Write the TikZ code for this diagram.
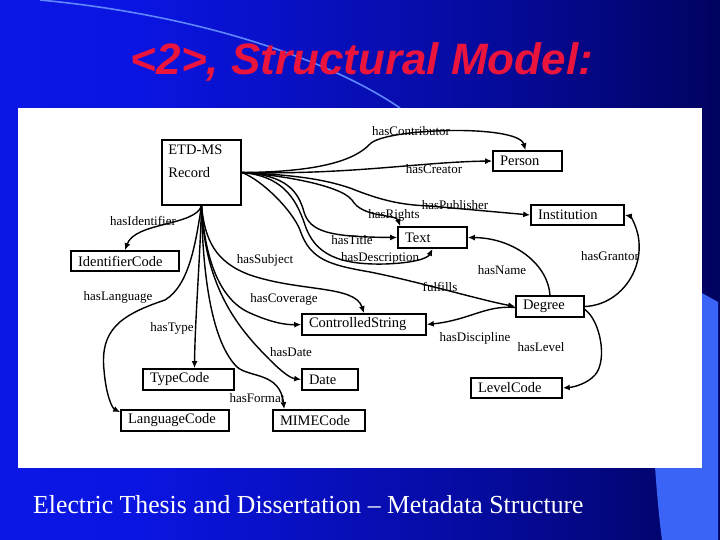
\documentclass[tikz,border=0pt]{standalone}
\usepackage{fontspec}
\setmainfont{Liberation Serif}
\newfontfamily\ttlfont{Liberation Sans}
\usetikzlibrary{arrows.meta}
\pgfdeclarehorizontalshading{slidebg}{100bp}{rgb(0bp)=(0.05,0.12,0.95); rgb(35bp)=(0.04,0.08,0.88); rgb(60bp)=(0.02,0.04,0.6); rgb(80bp)=(0,0,0.3); rgb(95bp)=(0,0,0.05); rgb(100bp)=(0,0,0)}
\definecolor{titlered}{RGB}{235,20,60}
\definecolor{arcblue}{RGB}{95,135,255}
\definecolor{cornerblue}{RGB}{58,100,245}
\tikzset{
  box/.style={draw, line width=1.6pt, minimum height=21pt, inner xsep=7pt, inner ysep=0pt,
    font=\fontsize{14.5}{16}\selectfont, align=left},
  lbl/.style={inner sep=0pt, font=\fontsize{13}{15}\selectfont},
  rel/.style={line width=1.4pt, -{Latex[length=7pt,width=6pt]}},
}
\begin{document}
\begin{tikzpicture}[x=1pt,y=-1pt]
\useasboundingbox (0,0) rectangle (720,540);
\shade[shading=slidebg] (0,0) rectangle (720,540);
\fill[cornerblue] (700,292) -- (718,302) -- (718,540) -- (662,540) .. controls (658,510) and (656,480) .. (655,467) -- (655,400) -- cycle;
\draw[arcblue, line width=1.6pt] (40,0) .. controls (200,15) and (330,60) .. (400,108);
\fill[white] (18,108) rectangle (702,468);
\node[titlered, font=\ttlfont\bfseries\itshape\fontsize{44}{50}\selectfont] (title) at (362,62) {<2>, Structural Model:};
\node[white, anchor=base west, inner sep=0pt, font=\fontsize{26}{30}\selectfont] (foot) at (33,513) {\scalebox{0.99}[1]{Electric Thesis and Dissertation – Metadata Structure}};

% nodes
\node[draw, line width=1.7pt, minimum width=79pt, minimum height=65pt, inner sep=0pt,
  label={[anchor=north west, align=left, inner sep=0pt, xshift=7pt, yshift=-6pt, font=\fontsize{14.5}{23}\selectfont]north west:{ETD-MS\\Record}}] (rec) at (201.5,172.5) {};
\node[box, text width=55pt, minimum height=20pt] (person) at (527.5,161) {Person};
\node[box, text width=79pt, minimum height=20pt] (inst) at (577.5,215) {Institution};
\node[box, text width=55pt] (txt) at (432.5,237.5) {Text};
\node[box, text width=94pt, minimum height=20pt] (idc) at (125,261) {IdentifierCode};
\node[box, text width=54pt] (degree) at (550,306.5) {Degree};
\node[box, text width=110pt] (cs) at (364,324.5) {ControlledString};
\node[box, text width=77pt] (type) at (188.5,379.5) {TypeCode};
\node[box, text width=42pt] (date) at (330,379.5) {Date};
\node[box, text width=77pt, minimum height=20pt] (level) at (516.5,388) {LevelCode};
\node[box, text width=94pt] (lang) at (175,420.5) {LanguageCode};
\node[box, text width=78pt] (mime) at (319,420.5) {MIMECode};

% labels
\node[lbl] (lContributor) at (411,131) {hasContributor};
\node[lbl] (lCreator) at (434,169) {hasCreator};
\node[lbl] (lPublisher) at (455,205) {hasPublisher};
\node[lbl] (lRights) at (394,215) {hasRights};
\node[lbl] (lTitle) at (352,240) {hasTitle};
\node[lbl] (lDescription) at (380,258) {hasDescription};
\node[lbl] (lName) at (502,270) {hasName};
\node[lbl] (lFulfills) at (440,287) {fulfills};
\node[lbl] (lGrantor) at (610,256) {hasGrantor};
\node[lbl] (lIdentifier) at (143,221) {hasIdentifier};
\node[lbl] (lSubject) at (265,260) {hasSubject};
\node[lbl] (lLanguage) at (118,297) {hasLanguage};
\node[lbl] (lCoverage) at (284,299) {hasCoverage};
\node[lbl] (lType) at (172,328) {hasType};
\node[lbl] (lDiscipline) at (475,338) {hasDiscipline};
\node[lbl] (lLevel) at (541,347) {hasLevel};
\node[lbl] (lDate) at (291,352) {hasDate};
\node[lbl] (lFormat) at (257,398) {hasFormat};

% right fan
\draw[rel] (rec.east) .. controls (320,172) and (355,160) .. (370,144) .. controls (385,128) and (518,124) .. ([xshift=-2pt]person.north);
\draw[rel] (rec.east) .. controls (350,175) and (420,162) .. (person.west);
\draw[rel] (rec.east) .. controls (290,175) and (320,178) .. (350,188) .. controls (380,200) and (400,205) .. (430,206) -- (inst.west);
\draw[rel] (rec.east) .. controls (280,175) and (340,185) .. (352,200) .. controls (362,218) and (396,214) .. ([xshift=3pt]txt.north west);
\draw[rel] (rec.east) .. controls (285,175) and (298,190) .. (304,212) .. controls (310,232) and (330,237) .. (txt.west);
\draw[rel] (rec.east) .. controls (280,176) and (295,195) .. (305,225) .. controls (315,255) and (340,265) .. (385,264) .. controls (415,263) and (428,258) .. (txt.south);
\draw[rel] (rec.east) .. controls (262,180) and (292,210) .. (300,230) .. controls (310,260) and (330,265) .. (370,272) .. controls (420,282) and (480,300) .. (degree.west);
% bottom fan
\draw[rel] (rec.south) .. controls (195,226) and (135,222) .. (idc.north);
\draw[rel] (rec.south) .. controls (196,240) and (190,285) .. (165,300) .. controls (120,315) and (100,330) .. (104,370) .. controls (106,395) and (112,408) .. ([yshift=-3pt]lang.north west);
\draw[rel] (rec.south) .. controls (200,260) and (195,320) .. ([xshift=6pt]type.north);
\draw[rel] (rec.south) .. controls (205,240) and (215,262) .. (250,275) .. controls (300,292) and (355,285) .. (cs.north);
\draw[rel] (rec.south) .. controls (205,260) and (220,300) .. (250,313) .. controls (270,322) and (285,325) .. (cs.west);
\draw[rel] (rec.south) .. controls (205,290) and (240,330) .. (270,360) .. controls (282,372) and (290,378) .. (date.west);
\draw[rel] (rec.south) .. controls (203,290) and (215,345) .. (237,367) .. controls (250,378) and (280,372) .. ([xshift=12pt]mime.north west);
% degree edges
\draw[rel] (degree.north) .. controls (548,265) and (515,238) .. (txt.east);
\draw[rel] (degree.east) .. controls (620,305) and (645,270) .. (638,235) .. controls (635,222) and (630,216) .. (inst.east);
\draw[rel] ([yshift=-1pt]degree.west) .. controls (485,305) and (470,320) .. (cs.east);
\draw[rel] ([yshift=-3pt]degree.east) .. controls (600,320) and (608,360) .. (595,375) .. controls (588,383) and (575,387) .. (level.east);
\end{tikzpicture}
\end{document}
